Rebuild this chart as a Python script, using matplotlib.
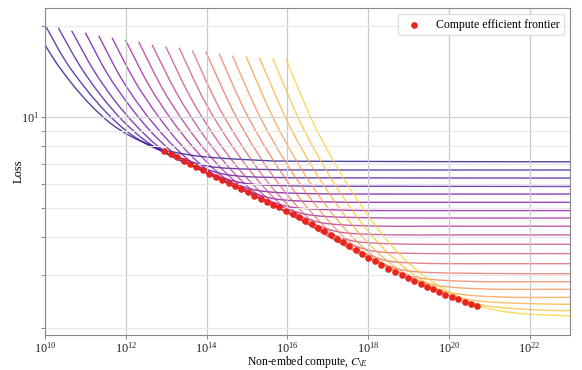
import numpy as np
import matplotlib
matplotlib.use('Agg')
import matplotlib.pyplot as plt
from matplotlib.ticker import NullLocator, FixedLocator, NullFormatter
from matplotlib.path import Path
from matplotlib.patches import PathPatch

plt.rcParams['font.family'] = ['Liberation Serif', 'DejaVu Serif']
plt.rcParams['mathtext.fontset'] = 'stix'

# ---- data (compute given as log10 of non-embed compute) ----
frontier_log_compute = [12.95, 13.11, 13.27, 13.43, 13.59, 13.75, 13.91, 14.07, 14.23, 14.38,
                        14.55, 14.70, 14.86, 15.02, 15.18, 15.34, 15.50, 15.65, 15.80, 15.97,
                        16.13, 16.29, 16.44, 16.60, 16.76, 16.91, 17.07, 17.23, 17.38, 17.54,
                        17.70, 17.85, 18.01, 18.17, 18.33, 18.50, 18.66, 18.83, 18.99, 19.13,
                        19.30, 19.45, 19.60, 19.76, 19.91, 20.07, 20.23, 20.39, 20.54, 20.70]
frontier_loss = [7.71, 7.54, 7.35, 7.15, 7.00, 6.83, 6.66, 6.49, 6.33, 6.17,
                 6.05, 5.90, 5.77, 5.62, 5.48, 5.35, 5.24, 5.11, 5.01, 4.88,
                 4.76, 4.64, 4.53, 4.41, 4.28, 4.18, 4.05, 3.94, 3.84, 3.73,
                 3.62, 3.52, 3.41, 3.32, 3.23, 3.14, 3.07, 2.99, 2.93, 2.86,
                 2.79, 2.73, 2.68, 2.62, 2.57, 2.53, 2.48, 2.43, 2.39, 2.35]

curve_log_compute = [
    [9.67, 10.16, 10.65, 11.14, 11.63, 12.13, 12.62, 12.95, 13.56, 14.18, 15.17, 16.41, 23.00],
    [10.00, 10.50, 11.01, 11.51, 12.01, 12.51, 13.02, 13.35, 13.97, 14.59, 15.58, 16.82, 23.00],
    [10.33, 10.85, 11.36, 11.87, 12.39, 12.90, 13.41, 13.76, 14.38, 15.00, 15.99, 17.22, 23.00],
    [10.66, 11.19, 11.71, 12.24, 12.76, 13.29, 13.81, 14.16, 14.78, 15.40, 16.39, 17.63, 23.00],
    [11.00, 11.53, 12.07, 12.60, 13.14, 13.68, 14.21, 14.57, 15.19, 15.81, 16.80, 18.03, 23.00],
    [11.33, 11.87, 12.42, 12.97, 13.52, 14.06, 14.61, 14.98, 15.59, 16.21, 17.20, 18.44, 23.00],
    [11.66, 12.22, 12.78, 13.33, 13.89, 14.45, 15.01, 15.38, 16.00, 16.62, 17.61, 18.85, 23.00],
    [11.99, 12.56, 13.13, 13.70, 14.27, 14.84, 15.41, 15.79, 16.41, 17.02, 18.01, 19.25, 23.00],
    [12.32, 12.90, 13.48, 14.06, 14.64, 15.23, 15.81, 16.19, 16.81, 17.43, 18.42, 19.66, 23.00],
    [12.65, 13.25, 13.84, 14.43, 15.02, 15.61, 16.20, 16.60, 17.22, 17.84, 18.83, 20.06, 23.00],
    [12.99, 13.59, 14.19, 14.79, 15.40, 16.00, 16.60, 17.00, 17.62, 18.24, 19.23, 20.47, 23.00],
    [13.32, 13.93, 14.55, 15.16, 15.77, 16.39, 17.00, 17.41, 18.03, 18.65, 19.64, 20.88, 23.00],
    [13.65, 14.27, 14.90, 15.52, 16.15, 16.77, 17.40, 17.82, 18.44, 19.05, 20.04, 21.28, 23.00],
    [13.98, 14.62, 15.25, 15.89, 16.53, 17.16, 17.80, 18.22, 18.84, 19.46, 20.45, 21.69, 23.00],
    [14.31, 14.96, 15.61, 16.25, 16.90, 17.55, 18.20, 18.63, 19.25, 19.87, 20.86, 22.09, 23.00],
    [14.64, 15.30, 15.96, 16.62, 17.28, 17.94, 18.60, 19.03, 19.65, 20.27, 21.26, 22.50, 23.00],
    [14.98, 15.65, 16.31, 16.98, 17.65, 18.32, 18.99, 19.44, 20.06, 20.68, 21.67, 22.91, 23.00],
    [15.31, 15.99, 16.67, 17.35, 18.03, 18.71, 19.39, 19.85, 20.47, 21.08, 22.07, 23.00],
    [15.64, 16.33, 17.02, 17.71, 18.41, 19.10, 19.79, 20.25, 20.87, 21.49, 22.48, 23.00],
    [15.97, 16.67, 17.38, 18.08, 18.78, 19.49, 20.19, 20.66, 21.28, 21.90, 22.89, 23.00],
]
curve_loss = [
    [20.85, 16.00, 12.98, 10.92, 9.51, 8.62, 8.06, 7.77, 7.49, 7.33, 7.20, 7.13, 7.10],
    [20.22, 15.39, 12.41, 10.38, 9.00, 8.13, 7.59, 7.31, 6.89, 6.75, 6.69, 6.67, 6.67],
    [19.77, 14.89, 11.90, 9.89, 8.53, 7.68, 7.14, 6.87, 6.48, 6.34, 6.29, 6.28, 6.27],
    [19.33, 14.40, 11.41, 9.41, 8.07, 7.23, 6.71, 6.44, 6.08, 5.95, 5.90, 5.89, 5.88],
    [19.04, 14.02, 11.00, 9.01, 7.68, 6.85, 6.34, 6.08, 5.73, 5.61, 5.56, 5.55, 5.55],
    [18.61, 13.56, 10.55, 8.58, 7.27, 6.46, 5.96, 5.71, 5.38, 5.27, 5.22, 5.21, 5.21],
    [18.33, 13.18, 10.16, 8.19, 6.89, 6.10, 5.61, 5.36, 5.05, 4.95, 4.90, 4.89, 4.89],
    [18.05, 12.84, 9.80, 7.84, 6.56, 5.78, 5.30, 5.05, 4.77, 4.67, 4.63, 4.62, 4.62],
    [17.78, 12.48, 9.44, 7.49, 6.23, 5.46, 4.99, 4.75, 4.47, 4.38, 4.34, 4.34, 4.34],
    [17.38, 12.06, 9.03, 7.11, 5.88, 5.13, 4.67, 4.44, 4.17, 4.09, 4.06, 4.06, 4.06],
    [17.12, 11.70, 8.66, 6.75, 5.53, 4.80, 4.36, 4.13, 3.88, 3.81, 3.78, 3.78, 3.78],
    [16.99, 11.42, 8.33, 6.43, 5.22, 4.50, 4.07, 3.85, 3.61, 3.54, 3.52, 3.52, 3.52],
    [16.61, 11.00, 7.94, 6.07, 4.89, 4.19, 3.78, 3.57, 3.34, 3.28, 3.26, 3.26, 3.26],
    [16.49, 10.72, 7.63, 5.76, 4.60, 3.92, 3.51, 3.31, 3.11, 3.05, 3.03, 3.02, 3.02],
    [16.24, 10.42, 7.34, 5.50, 4.36, 3.70, 3.30, 3.11, 2.93, 2.87, 2.84, 2.84, 2.84],
    [15.99, 10.15, 7.08, 5.26, 4.15, 3.50, 3.12, 2.93, 2.77, 2.71, 2.68, 2.68, 2.68],
    [15.87, 9.93, 6.85, 5.04, 3.95, 3.31, 2.94, 2.76, 2.61, 2.55, 2.52, 2.52, 2.52],
    [15.75, 9.73, 6.65, 4.86, 3.78, 3.15, 2.79, 2.61, 2.48, 2.43, 2.40, 2.39],
    [15.63, 9.55, 6.47, 4.69, 3.63, 3.02, 2.66, 2.49, 2.37, 2.32, 2.28, 2.28],
    [15.52, 9.39, 6.31, 4.55, 3.50, 2.90, 2.55, 2.38, 2.27, 2.22, 2.19, 2.19],
]

x_tick_exponents = [10, 12, 14, 16, 18, 20, 22]
y_minor_ticks = [2, 3, 4, 5, 6, 7, 8, 9, 20]


def smooth_path(log_c, loss):
    """Smooth (Catmull-Rom) drawing path through the read points, in log-log space."""
    P = np.column_stack([np.asarray(log_c, float), np.log10(loss)])
    n = len(P)
    verts = [P[0]]
    codes = [Path.MOVETO]
    for i in range(n - 1):
        p0 = P[i - 1] if i > 0 else P[i]
        p1 = P[i]
        p2 = P[i + 1]
        p3 = P[i + 2] if i + 2 < n else P[i + 1]
        verts += [p1 + (p2 - p0) / 6, p2 - (p3 - p1) / 6, p2]
        codes += [Path.CURVE4] * 3
    return Path(10 ** np.array(verts), codes)


fig = plt.figure(figsize=(5.82, 3.70), dpi=100)
ax = fig.add_axes([45 / 582, 35 / 370, 525 / 582, 327 / 370])
ax.set_xscale('log')
ax.set_yscale('log')

cols = plt.get_cmap('plasma')(np.linspace(0, 0.9, len(curve_loss)))
for k, (c, l) in enumerate(zip(curve_log_compute, curve_loss)):
    ax.add_patch(PathPatch(smooth_path(c, l), fill=False, edgecolor=cols[k],
                           lw=1.0, alpha=0.75))

ax.scatter(10 ** np.array(frontier_log_compute), frontier_loss, s=14, color='#e8251c',
           zorder=5, label='Compute efficient frontier')

ax.set_xlim(1e10, 1e23)
ax.set_ylim(1.89, 23.0)
ax.xaxis.set_major_locator(FixedLocator([10.0 ** e for e in x_tick_exponents]))
ax.xaxis.set_minor_locator(NullLocator())
ax.yaxis.set_minor_locator(FixedLocator(y_minor_ticks))
ax.yaxis.set_minor_formatter(NullFormatter())
ax.grid(which='major', axis='x', color='#c8c8c8', lw=0.9)
ax.grid(which='major', axis='y', color='#d4d4d4', lw=0.9)
ax.grid(which='minor', axis='y', color='#e8e8e8', lw=0.8)
for s in ax.spines.values():
    s.set_color('#888888')
    s.set_linewidth(0.8)
ax.tick_params(which='both', colors='#888888', labelcolor='#222222', labelsize=8.8,
               length=3, width=0.7, pad=1.2)
ax.set_ylabel('Loss', fontsize=9)
ax.yaxis.set_label_coords(-0.039, 0.5)
ax.set_xlabel(r'Non-embed compute, $C_{\backslash E}$', fontsize=8.4, labelpad=-0.8)
ax.legend(loc='upper right', fontsize=8.5, frameon=True, edgecolor='#dddddd', framealpha=0.9)
fig.savefig('out.png', dpi=100)
